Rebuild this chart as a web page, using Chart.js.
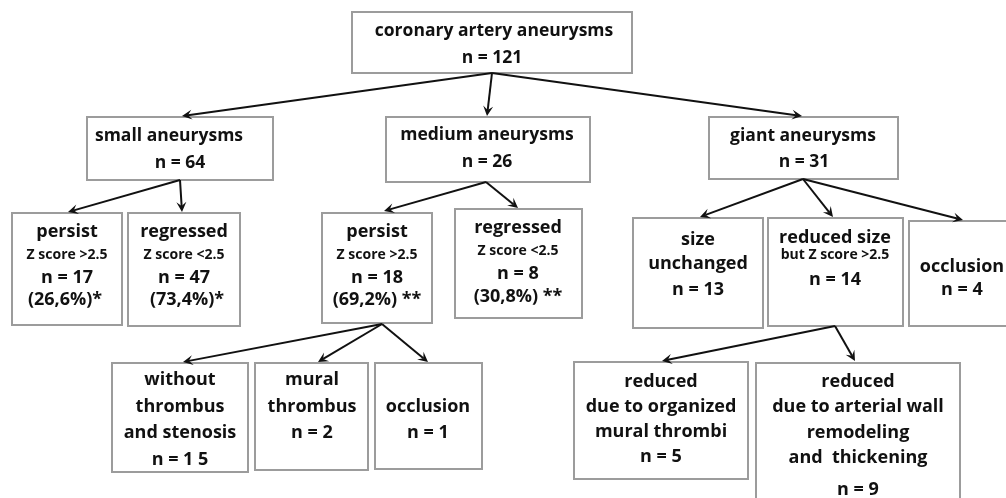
<!DOCTYPE html>
<html>
<head>
<meta charset="utf-8">
<script src="https://cdn.jsdelivr.net/npm/chart.js@4"></script>
<style>
  html, body { margin: 0; padding: 0; background: #fff; }
  #c { display: block; }
</style>
</head>
<body>
<canvas id="c" width="1006" height="498"></canvas>
<script>
'use strict';

// --- data: node texts (order = node index) ---
var nodeTitles = [
  ['coronary artery aneurysms'],
  ['small aneurysms'], ['medium aneurysms'], ['giant aneurysms'],
  ['persist'], ['regressed'], ['persist'], ['regressed'],
  ['size', 'unchanged'], ['reduced size'], ['occlusion'],
  ['without', 'thrombus', 'and stenosis'], ['mural', 'thrombus'], ['occlusion'],
  ['reduced', 'due to organized', 'mural thrombi'],
  ['reduced', 'due to arterial wall', 'remodeling', 'and  thickening']
];
var nodeNotes = ['', '', '', '', 'Z score >2.5', 'Z score <2.5', 'Z score >2.5', 'Z score <2.5',
  '', 'but Z score >2.5', '', '', '', '', '', ''];
var nodeCounts = ['121', '64', '26', '31', '17', '47', '18', '8', '13', '14', '4', '1 5', '2', '1', '5', '9'];
var nodeShares = ['', '', '', '', '(26,6%)*', '(73,4%)*', '(69,2%) **', '(30,8%) **',
  '', '', '', '', '', '', '', ''];
var edges = [[0, 1], [0, 2], [0, 3], [1, 4], [1, 5], [2, 6], [2, 7], [3, 8], [3, 9], [3, 10],
  [6, 11], [6, 12], [6, 13], [9, 14], [9, 15]];

// --- layout (data units of the hidden 0..1006 / 0..498 axes) ---
var boxes = [
  [352, 12, 632, 73],
  [87, 117, 273, 180], [386, 117, 590, 182], [709, 117, 898, 179],
  [12, 213, 122, 325], [128, 213, 240, 326], [322, 213, 432, 323], [455, 209, 582, 318],
  [633, 218, 763, 328], [768, 218, 903, 326], [909, 221, 1008, 326],
  [112, 363, 248, 472], [255, 363, 368, 470], [375, 363, 482, 469],
  [574, 362, 748, 479], [756, 363, 960, 505]
];
// line centres: [x per line], [y per line]  (title lines, note, count, share)
var lineX = [
  [494, 492], [169, 180], [487, 487], [803, 804],
  [67, 67, 67, 65], [184, 184, 184, 187], [377, 377, 377, 377], [518, 518, 518, 518],
  [698, 698, 698], [835, 835, 835], [962, 962],
  [180, 180, 180, 180], [312, 312, 312], [428, 428],
  [661, 661, 661, 661], [858, 858, 858, 858, 858]
];
var lineY = [
  [31, 58], [136, 163], [135, 162], [136, 162],
  [232, 255, 278, 300], [232, 255, 278, 300], [232, 255, 278, 300], [228, 251, 274, 297],
  [240, 264, 290], [238, 255, 280], [267, 290],
  [380, 407, 433, 460], [380, 407, 433], [407, 433],
  [382, 407, 432, 457], [382, 407, 433, 458, 490]
];
var edgeFrom = [[492, 73], [492, 73], [492, 73], [180, 180], [180, 180], [486, 182], [486, 182],
  [803, 179], [803, 179], [803, 179], [382, 324], [382, 324], [382, 324], [835, 326], [835, 326]];
var edgeTo = [[182, 116], [487, 116], [802, 116], [68, 212], [182, 212], [384, 211], [518, 208],
  [700, 217], [833, 217], [963, 220], [183, 362], [318, 362], [428, 362], [662, 361], [855, 361]];

var FONT = '"Open Sans", "Noto Sans", sans-serif';
function titleSize(i) { return i < 4 ? 17.5 : (i < 11 ? 18 : 18); }

function nodeLines(i) {
  var out = [];
  nodeTitles[i].forEach(function (t) { out.push({ t: t, s: titleSize(i) }); });
  if (nodeNotes[i]) out.push({ t: nodeNotes[i], s: 14 });
  out.push({ t: 'n = ' + nodeCounts[i], s: titleSize(i) });
  if (nodeShares[i]) out.push({ t: nodeShares[i], s: titleSize(i) });
  return out;
}

function arrow(ctx, x0, y0, x1, y1) {
  var a = Math.atan2(y1 - y0, x1 - x0), L = 10, W = 5;
  var c = Math.cos(a), s = Math.sin(a);
  ctx.beginPath(); ctx.moveTo(x0, y0); ctx.lineTo(x1 - c * 6, y1 - s * 6); ctx.stroke();
  ctx.beginPath();
  ctx.moveTo(x1, y1);
  ctx.lineTo(x1 - c * L - s * W, y1 - s * L + c * W);
  ctx.lineTo(x1 - c * L * 0.6, y1 - s * L * 0.6);
  ctx.lineTo(x1 - c * L + s * W, y1 - s * L - c * W);
  ctx.closePath(); ctx.fill();
}

var flowPlugin = {
  id: 'flow',
  afterDatasetsDraw: function (chart) {
    var ctx = chart.ctx, xs = chart.scales.x, ys = chart.scales.y;
    function px(v) { return xs.getPixelForValue(v); }
    function py(v) { return ys.getPixelForValue(v); }
    ctx.save();
    // boxes
    ctx.strokeStyle = '#9c9c9c'; ctx.lineWidth = 2;
    boxes.forEach(function (b) {
      ctx.strokeRect(px(b[0]), py(b[1]), px(b[2]) - px(b[0]), py(b[3]) - py(b[1]));
    });
    // arrows
    ctx.strokeStyle = '#111'; ctx.fillStyle = '#111'; ctx.lineWidth = 2;
    edges.forEach(function (e, k) {
      arrow(ctx, px(edgeFrom[k][0]), py(edgeFrom[k][1]), px(edgeTo[k][0]), py(edgeTo[k][1]));
    });
    // texts
    ctx.fillStyle = '#111'; ctx.textAlign = 'center'; ctx.textBaseline = 'middle';
    nodeTitles.forEach(function (t, i) {
      nodeLines(i).forEach(function (ln, j) {
        ctx.font = 'bold ' + ln.s + 'px ' + FONT;
        ctx.fillText(ln.t, px(lineX[i][j]), py(lineY[i][j]));
      });
    });
    ctx.restore();
  }
};

new Chart(document.getElementById('c').getContext('2d'), {
  type: 'scatter',
  data: { datasets: [{ data: [], pointRadius: 0 }] },
  options: {
    responsive: false, animation: false,
    layout: { padding: 0 },
    plugins: { legend: { display: false }, tooltip: { enabled: false } },
    scales: {
      x: { type: 'linear', min: 0, max: 1006, display: false },
      y: { type: 'linear', min: 0, max: 498, reverse: true, display: false }
    }
  },
  plugins: [flowPlugin]
});
</script>
</body>
</html>
